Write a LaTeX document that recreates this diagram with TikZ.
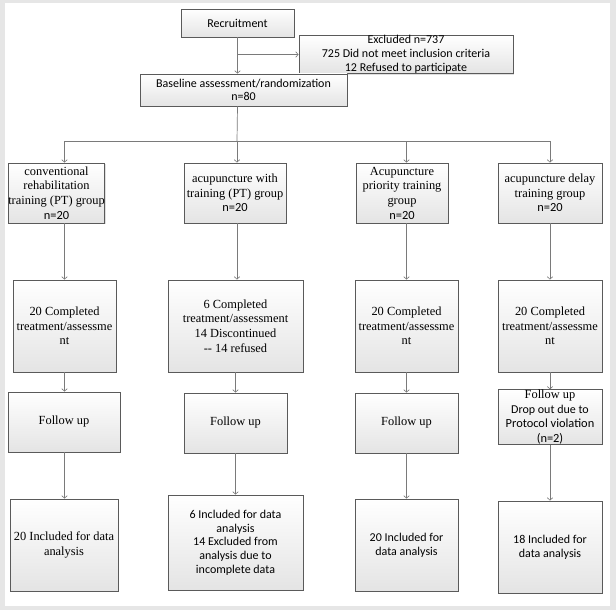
\documentclass[tikz,border=0pt]{standalone}
\usepackage{fontspec}
\setmainfont{Liberation Serif}
\newfontfamily\tnr{Liberation Serif}
\newfontfamily\calib{Carlito}
\usetikzlibrary{arrows.meta, shadows}

\definecolor{pagebg}{HTML}{E6E6E6}
\definecolor{boxline}{HTML}{5A5A5A}
\definecolor{boxfill}{HTML}{E4E4E4}
\definecolor{linkcol}{HTML}{7A7A7A}

\tikzset{
	box/.style={draw=boxline, line width=0.8pt, top color=white, bottom color=boxfill,
		drop shadow={shadow xshift=1.2pt, shadow yshift=-1.2pt, opacity=0.25},
		align=center, inner sep=0pt, font=\tnr\fontsize{12.4}{14.7}\selectfont},
	sbox/.style={box, font=\calib\fontsize{12}{13.7}\selectfont},
	link/.style={draw=linkcol, line width=0.7pt},
	arr/.style={link, -{Straight Barb[length=2.5pt, width=5.5pt, line width=0.6pt]}}
}

\begin{document}
\begin{tikzpicture}[x=1pt, y=-1pt]
		\useasboundingbox (0,0) rectangle (616,610);
		\fill[pagebg] (0,0) rectangle (616,610);
		\fill[white] (5,3) rectangle (610,606);

		\node[sbox, minimum width=113pt, minimum height=28pt] (recruit) at (237.5,23) {Recruitment};
		\node[sbox, minimum width=214pt, minimum height=37pt] (excl) at (406,54.5)
		{Excluded n=737\\ 725 Did not meet inclusion criteria\\ 12 Refused to participate};
		\node[sbox, minimum width=207pt, minimum height=32pt] (base) at (243.5,90)
		{Baseline assessment/randomization\\ n=80};

		% groups
		\node[box, minimum width=91pt, minimum height=60pt] (g1) at (56.5,193)
		{conventional\\ rehabilitation\\ training (PT) group\\ {\calib n=20}};
		\node[box, minimum width=102pt, minimum height=60pt] (g2) at (235,193)
		{acupuncture with\\ training (PT) group\\ {\calib n=20}};
		\node[box, minimum width=92pt, minimum height=60pt] (g3) at (402,193)
		{Acupuncture\\ priority training\\ group\\ {\calib n=20}};
		\node[box, minimum width=104pt, minimum height=60pt] (g4) at (550,193)
		{acupuncture delay\\ training group\\ {\calib n=20}};

		\node[box, minimum width=103pt, minimum height=92pt] (c1) at (64.5,326)
		{20 Completed\\ treatment/assessme\\ nt};
		\node[box, minimum width=135pt, minimum height=92pt] (c2) at (235.5,326)
		{6 Completed\\ treatment/assessment\\ 14 Discontinued\\ {-}{-} 14 refused};
		\node[box, minimum width=103pt, minimum height=92pt] (c3) at (406.5,326)
		{20 Completed\\ treatment/assessme\\ nt};
		\node[box, minimum width=104pt, minimum height=92pt] (c4) at (550,326)
		{20 Completed\\ treatment/assessme\\ nt};

		\node[box, minimum width=112pt, minimum height=60pt] (f1) at (64,422) {Follow up};
		\node[box, minimum width=103pt, minimum height=60pt] (f2) at (235.5,423) {Follow up};
		\node[box, minimum width=103pt, minimum height=60pt] (f3) at (406.5,423) {Follow up};
		\node[box, minimum width=104pt, minimum height=52pt] (f4) at (550,417)
		{Follow up\\ {\calib\fontsize{12}{13.7}\selectfont Drop out due to}\\
		{\calib Protocol violation}\\ {\calib (n=2)}};

		\node[box, minimum width=108pt, minimum height=92pt] (i1) at (64,545)
		{20 Included for data\\ analysis};
		\node[sbox, minimum width=135pt, minimum height=95pt] (i2) at (235.5,542.5)
		{6 Included for data\\ analysis\\ 14 Excluded from\\ analysis due to\\ incomplete data};
		\node[sbox, minimum width=103pt, minimum height=92pt] (i3) at (406.5,545)
		{20 Included for\\ data analysis};
		\node[sbox, minimum width=104pt, minimum height=92pt] (i4) at (550,547)
		{18 Included for\\ data analysis};

		\coordinate (split) at (237,141);
		\draw[arr] (recruit.south) -- (recruit.south |- base.north);
		\draw[arr] (recruit.south |- excl.west) -- (excl.west);
		\draw[link] (base.south -| recruit.south) -- (split);
		\draw[arr] (split) -| (g1.north -| c1.north);
		\draw[arr] (split) -- (g2.north -| split);
		\draw[arr] (split) -| (g3.north -| c3.north);
		\draw[arr] (split) -| (g4.north);
		\draw[arr] (g1.south -| c1.north) -- (c1.north);
		\draw[arr] (g2.south -| split) -- (c2.north -| split);
		\draw[arr] (g3.south -| c3.north) -- (c3.north);
		\draw[arr] (g4.south) -- (c4.north);
		\foreach \n in {1,...,4} {
			\draw[arr] (c\n.south) -- (f\n.north -| c\n.south);
			\draw[arr] (f\n.south -| c\n.south) -- (i\n.north -| c\n.south);
		}
	\end{tikzpicture}
\end{document}
